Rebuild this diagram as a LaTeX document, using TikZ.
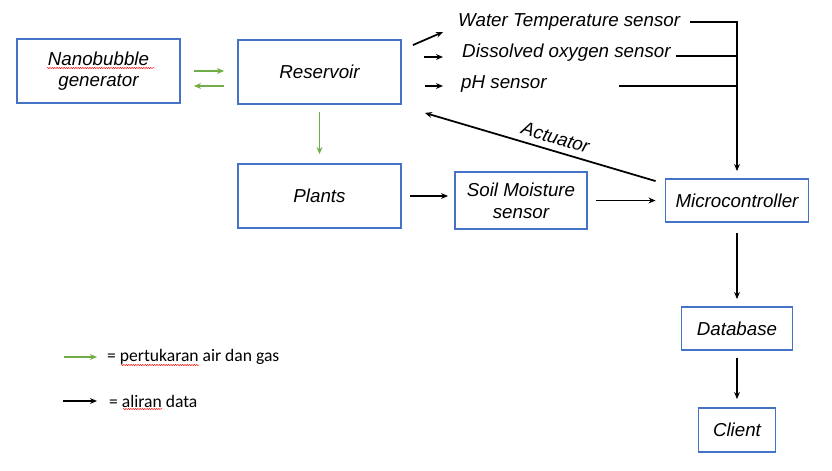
\documentclass[tikz,border=0pt]{standalone}
\usepackage{fontspec}
\setmainfont{Liberation Sans}
\newfontfamily\legendfont{Carlito}
\usetikzlibrary{calc,arrows.meta,decorations.pathmorphing}
\definecolor{boxblue}{HTML}{4472C4}
\definecolor{flowgreen}{HTML}{70AD47}
\tikzset{
  blk/.style   ={draw=boxblue, line width=1.6pt, align=center, inner sep=0pt,
                 font=\fontsize{16}{18.5}\selectfont\itshape},
  lbl/.style   ={inner sep=0pt, font=\fontsize{16}{18.5}\selectfont\itshape},
  data/.style  ={-{Stealth[length=6pt,width=5pt]}, line width=1.5pt},
  bus/.style   ={line width=1.5pt},
  flow/.style  ={-{Stealth[length=6pt,width=5pt]}, draw=flowgreen, line width=1.2pt},
  legtxt/.style={anchor=west, inner sep=0pt, font=\legendfont\fontsize{15}{17}\selectfont},
  squig/.style ={red, line width=0.4pt, decorate,
                 decoration={snake, amplitude=0.5pt, segment length=2pt}},
}
\begin{document}
\begin{tikzpicture}[x=0.03cm, y=-0.03cm]
  \useasboundingbox (0,0) rectangle (832,470);
  % blocks
  \node[blk, minimum width=4.89cm, minimum height=1.92cm] (nano)   at (98.5,71)  {Nanobubble\\generator};
  \node[blk, minimum width=4.89cm, minimum height=1.92cm] (res)    at (319.5,72) {Reservoir};
  \node[blk, minimum width=4.89cm, minimum height=1.92cm] (plants) at (319.5,196){Plants};
  \node[blk, minimum width=3.96cm, minimum height=1.71cm] (soil)   at (521,200.5){Soil Moisture\\sensor};
  \node[blk, minimum width=4.29cm, minimum height=1.29cm] (micro)  at (737,200.5){Microcontroller};
  \node[blk, minimum width=3.33cm, minimum height=1.29cm] (db)     at (737,328.5){Database};
  \node[blk, minimum width=2.31cm, minimum height=1.32cm] (cli)    at (737,430)  {Client};
  % sensors
  \node[lbl, anchor=west] (wt) at (458,22) {Water Temperature sensor};
  \node[lbl, anchor=west] (do) at (462,53) {Dissolved oxygen sensor};
  \node[lbl, anchor=west] (ph) at (461,84) {pH sensor};
  % water and gas
  \draw[flow] ($(nano.east)+(13,0)$) -- ($(nano.east -| res.west)+(-13,0)$);
  \draw[flow] ($(res.west)+(-13,14)$) -- ($(nano.east)+(13,15)$);
  \draw[flow] ($(res.south)+(0,7)$) -- ($(plants.north)+(0,-9)$);
  % data
  \draw[data] ($(res.north east)+(11,6)$) -- ($(wt.west)+(-15,10)$);
  \draw[data] ($(res.east)+(22,-15)$) -- ($(do.west)+(-19,4)$);
  \draw[data] ($(res.east)+(23,14)$) -- ($(ph.west)+(-18,2)$);
  \draw[data] ($(wt.east)+(10,0)$) -| ($(micro.north)+(0,-7)$);
  \draw[bus] ($(do.east)+(5,3)$) -- ($(do.east -| micro.north)+(0,3)$);
  \draw[bus] ($(ph.east)+(72,2)$) -- ($(ph.east -| micro.north)+(0,2)$);
  \draw[data] ($(micro.north west)+(-9,3)$) -- ($(res.south east)+(23,8)$)
    node[lbl, pos=0.45, sloped, above=5pt] (act) {Actuator};
  \draw[data] ($(plants.east)+(8,0)$) -- ($(plants.east -| soil.west)+(-6,0)$);
  \draw[data] ($(soil.east)+(8,0)$) -- ($(micro.west)+(-9,0)$);
  \draw[data] ($(micro.south)+(0,10)$) -- ($(db.north)+(0,-7)$);
  \draw[data] ($(db.south)+(0,7)$) -- ($(cli.north)+(0,-8)$);
  % legend
  \node[legtxt] (leg1) at (107,357) {= pertukaran air dan gas};
  \node[legtxt] (leg2) at (109,401) {= aliran data};
  \draw[flow] ($(leg1.west)+(-43,0)$) -- ($(leg1.west)+(-10,0)$);
  \draw[data] ($(leg2.west)+(-46,0)$) -- ($(leg2.west)+(-12,0)$);
  % spell check marks
  \draw[squig] (47,68) -- (154,68);
  \draw[squig] (121,365) -- (199,365);
  \draw[squig] (123,409) -- (162,409);
\end{tikzpicture}
\end{document}
